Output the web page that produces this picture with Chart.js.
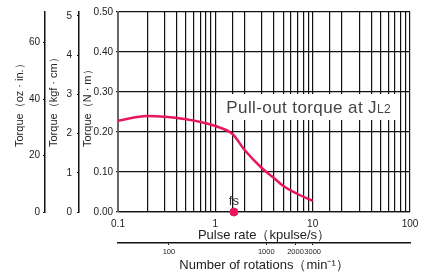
<!DOCTYPE html>
<html>
<head>
<meta charset="utf-8">
<script src="https://cdn.jsdelivr.net/npm/chart.js@4/dist/chart.umd.min.js"></script>
<style>
  html, body { margin: 0; padding: 0; background: #fff; }
  #wrap { width: 430px; height: 274px; position: relative; }
</style>
</head>
<body>
<div id="wrap"><canvas id="chart"></canvas></div>
<script>
// pull-out torque curve (pulse rate in kpulse/s, torque in N·m)
const pulseRate = [0.1, 0.2, 0.5, 0.8, 1.0, 1.5, 2, 3, 4, 5, 7, 10];
const torqueNm = [0.228, 0.24, 0.232, 0.222, 0.215, 0.195, 0.155, 0.11, 0.085, 0.065, 0.045, 0.028];
const fsRate = [1.55];

const pulseTicks = [0.1, 1, 10, 100];
const rotationTicks = [100, 1000, 2000, 3000];

const NM_PER_KGFCM = 0.0980665;
const NM_PER_OZIN = 0.00706155;
const RPM_PER_KPPS = 300;
const torqueMax = 0.5;

const FONT = '"Liberation Sans", Arial, Helvetica, sans-serif';
const PINK = '#e8175d';
const INK = '#222';

const ctx = document.getElementById('chart').getContext('2d');

const decor = {
    id: 'decor',
    beforeDatasetsDraw(chart) {
        const { ctx, scales: { x, y } } = chart;
        // white box behind the curve label
        const l = x.getPixelForValue(1.0) + 1;
        const r = x.getPixelForValue(78);
        const t = y.getPixelForValue(0.295);
        const b = y.getPixelForValue(0.23);
        ctx.save();
        ctx.fillStyle = '#fff';
        ctx.fillRect(l, t, r - l, b - t);
        ctx.fillStyle = '#444';
        ctx.textBaseline = 'alphabetic';
        ctx.textAlign = 'left';
        ctx.letterSpacing = '0.4px';
        ctx.font = '17px ' + FONT;
        const main = 'Pull-out torque at J';
        const tx = l + 10, ty = y.getPixelForValue(0.247);
        ctx.fillText(main, tx, ty);
        const w = ctx.measureText(main).width;
        ctx.font = '12px ' + FONT;
        ctx.fillText('L2', tx + w, ty);
        ctx.restore();
    },
    afterDraw(chart) {
        const { ctx, scales } = chart;
        ctx.save();
        ctx.fillStyle = INK;
        ctx.font = '11px ' + FONT;
        ctx.textAlign = 'left';
        ctx.textBaseline = 'middle';
        const ty = scales.y.getPixelForValue(0.1625);
        [[scales.yOz, 'Torque（oz · in.）', 20],
         [scales.yKgf, 'Torque（kgf · cm）', 9],
         [scales.y, 'Torque（N · m）', 9]].forEach(([s, text, dx]) => {
            ctx.save();
            ctx.translate(s.left + dx, ty);
            ctx.rotate(-Math.PI / 2);
            ctx.fillText(text, 0, 0);
            ctx.restore();
        });
        // fs label above the point
        const pt = chart.getDatasetMeta(1).data[0];
        ctx.font = '13px ' + FONT;
        ctx.fillStyle = '#333';
        ctx.textAlign = 'center';
        ctx.textBaseline = 'alphabetic';
        ctx.fillText('fs', pt.x, pt.y - 7);
        ctx.restore();
    }
};

const isDecade = v => Math.abs(Math.log10(v) - Math.round(Math.log10(v))) < 1e-6;

new Chart(ctx, {
    type: 'line',
    data: {
        datasets: [{
            label: 'Pull-out torque',
            data: pulseRate.map((p, i) => ({ x: p, y: torqueNm[i] })),
            borderColor: PINK,
            borderWidth: 2.5,
            pointRadius: 0,
            cubicInterpolationMode: 'monotone',
            fill: false
        }, {
            label: 'fs',
            data: fsRate.map(p => ({ x: p, y: 0 })),
            showLine: false,
            pointRadius: 4,
            pointBackgroundColor: PINK,
            pointBorderColor: PINK,
            clip: false
        }]
    },
    options: {
        responsive: true,
        maintainAspectRatio: false,
        animation: false,
        layout: { padding: { top: 12, right: 20, left: 0, bottom: 0 } },
        plugins: { legend: { display: false }, tooltip: { enabled: false } },
        scales: {
            x: {
                type: 'logarithmic',
                position: 'bottom',
                min: 0.1,
                max: 100,
                afterFit: s => { s.height = 31; },
                grid: { color: '#111', lineWidth: 1.2, drawTicks: false },
                border: { color: '#111', width: 1.2 },
                ticks: {
                    autoSkip: false,
                    maxRotation: 0,
                    padding: 6,
                    color: INK,
                    font: { family: FONT, size: 10 },
                    callback: v => pulseTicks.some(t => Math.abs(t - v) < 1e-9) || isDecade(v) ? String(v) : ''
                },
                title: {
                    display: true,
                    text: 'Pulse rate（kpulse/s）',
                    color: INK,
                    font: { family: FONT, size: 13 },
                    padding: { top: 0, bottom: 0 }
                }
            },
            x2: {
                type: 'logarithmic',
                position: 'bottom',
                min: 0.1 * RPM_PER_KPPS,
                max: 100 * RPM_PER_KPPS,
                afterFit: s => { s.height = 31; },
                afterBuildTicks: s => { s.ticks = rotationTicks.map(v => ({ value: v })); },
                grid: { drawOnChartArea: false, color: '#111', tickLength: 2 },
                border: { color: '#111', width: 1.5 },
                ticks: {
                    autoSkip: false,
                    maxRotation: 0,
                    padding: 2,
                    color: INK,
                    font: { family: FONT, size: 7.5 },
                    callback: v => String(v)
                },
                title: {
                    display: true,
                    text: 'Number of rotations（min⁻¹）',
                    color: INK,
                    font: { family: FONT, size: 13 },
                    padding: { top: 0, bottom: 1 }
                }
            },
            y: {
                position: 'left',
                weight: 0,
                min: 0,
                max: torqueMax,
                afterFit: s => { s.width = 39; },
                grid: { color: '#111', lineWidth: 1.2, tickLength: 2 },
                border: { color: '#666', width: 2 },
                ticks: {
                    stepSize: 0.1,
                    padding: 3,
                    color: INK,
                    font: { family: FONT, size: 10 },
                    callback: v => v.toFixed(2)
                }
            },
            yKgf: {
                axis: 'y',
                position: 'left',
                weight: 1,
                min: 0,
                max: torqueMax / NM_PER_KGFCM,
                afterFit: s => { s.width = 34; },
                grid: { drawOnChartArea: false, color: '#111', tickLength: 2 },
                border: { color: '#111', width: 1.5 },
                ticks: {
                    stepSize: 1,
                    includeBounds: false,
                    padding: 5,
                    color: INK,
                    font: { family: FONT, size: 10 },
                    callback: v => String(v)
                }
            },
            yOz: {
                axis: 'y',
                position: 'left',
                weight: 2,
                min: 0,
                max: torqueMax / NM_PER_OZIN,
                afterFit: s => { s.width = 45; },
                grid: { drawOnChartArea: false, color: '#111', tickLength: 2 },
                border: { color: '#111', width: 1.5 },
                ticks: {
                    stepSize: 20,
                    includeBounds: false,
                    padding: 3,
                    color: INK,
                    font: { family: FONT, size: 10 },
                    callback: v => String(v)
                }
            }
        }
    },
    plugins: [decor]
});
</script>
</body>
</html>
